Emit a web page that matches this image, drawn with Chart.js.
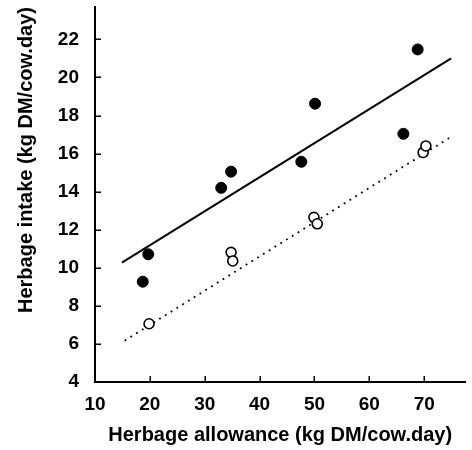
<!DOCTYPE html>
<html><head><meta charset="utf-8">
<script src="https://cdn.jsdelivr.net/npm/chart.js@4/dist/chart.umd.min.js"></script>
<style>html,body{margin:0;padding:0;background:#fff}#wrap{width:472px;height:450px}</style>
</head><body><div id="wrap"><canvas id="c" width="472" height="450"></canvas></div>
<script>
const xTicks = [10, 20, 30, 40, 50, 60, 70];
const yTicks = [4, 6, 8, 10, 12, 14, 16, 18, 20, 22];
const filledX = [18.7, 19.7, 33.0, 34.8, 47.6, 50.1, 66.2, 68.8];
const filledY = [9.27, 10.71, 14.2, 15.05, 15.57, 18.62, 17.04, 21.47];
const openX = [19.85, 34.8, 35.1, 49.9, 50.5, 69.8, 70.3];
const openY = [7.06, 10.81, 10.36, 12.65, 12.31, 16.06, 16.4];
const solidLineX = [14.9, 74.9];
const solidLineY = [10.27, 21.0];
const dottedLineX = [15.4, 74.9];
const dottedLineY = [6.17, 16.88];
const xTitle = 'Herbage allowance (kg DM/cow.day)';
const yTitle = 'Herbage intake (kg DM/cow.day)';

const pts = (xs, ys) => xs.map((v, i) => ({x: v, y: ys[i]}));
const FONT = "'Liberation Sans', Arial, sans-serif";

const tickMarks = {
  id: 'tickMarks',
  beforeDatasetsDraw(chart) {
    const {ctx, scales: {x, y}} = chart;
    ctx.save();
    ctx.strokeStyle = '#000';
    ctx.lineWidth = 1.5;
    ctx.beginPath();
    x.ticks.forEach(t => {
      if (t.value === x.min) return;
      const p = Math.round(x.getPixelForValue(t.value)) + 0.25;
      ctx.moveTo(p, x.top); ctx.lineTo(p, x.top - 6);
    });
    y.ticks.forEach(t => {
      if (t.value === y.min) return;
      const p = Math.round(y.getPixelForValue(t.value)) + 0.25;
      ctx.moveTo(y.right, p); ctx.lineTo(y.right + 6, p);
    });
    ctx.stroke();
    ctx.restore();
  }
};

new Chart(document.getElementById('c'), {
  type: 'scatter',
  data: {
    datasets: [
      {data: pts(filledX, filledY), pointRadius: 5.5, pointBackgroundColor: '#000', pointBorderColor: '#000', pointBorderWidth: 1, showLine: false, order: 0},
      {data: pts(openX, openY), pointRadius: 5, pointBackgroundColor: '#fff', pointBorderColor: '#000', pointBorderWidth: 1.6, showLine: false, order: 0},
      {data: pts(solidLineX, solidLineY), showLine: true, borderColor: '#000', borderWidth: 2, pointRadius: 0, order: 1},
      {data: pts(dottedLineX, dottedLineY), showLine: true, borderColor: '#000', borderWidth: 1.8, borderDash: [1.8, 5], pointRadius: 0, order: 1}
    ]
  },
  options: {
    responsive: false,
    animation: false,
    devicePixelRatio: 1,
    layout: {padding: {left: 0, right: 2, top: 7, bottom: 0}},
    plugins: {legend: {display: false}, tooltip: {enabled: false}},
    scales: {
      x: {
        type: 'linear', min: 10, max: 77.5,
        afterBuildTicks: s => { s.ticks = xTicks.map(v => ({value: v})); },
        afterFit: s => { s.height = 68; s.paddingLeft = 0; s.paddingRight = 0; s.paddingTop = 0; s.paddingBottom = 0; },
        grid: {display: false, drawTicks: false},
        border: {display: true, color: '#000', width: 2},
        ticks: {color: '#000', padding: 11, font: {family: FONT, size: 19, weight: 'bold'}, maxRotation: 0, autoSkip: false},
        title: {display: true, text: xTitle, color: '#000', padding: {top: 0, bottom: 3}, font: {family: FONT, size: 20, weight: 'bold'}}
      },
      y: {
        type: 'linear', min: 4, max: 23.7,
        afterBuildTicks: s => { s.ticks = yTicks.map(v => ({value: v})); },
        afterFit: s => { s.width = 95; s.paddingLeft = 0; s.paddingRight = 0; s.paddingTop = 0; s.paddingBottom = 0; },
        grid: {display: false, drawTicks: false},
        border: {display: true, color: '#000', width: 2},
        ticks: {color: '#000', padding: 16, font: {family: FONT, size: 19, weight: 'bold'}, autoSkip: false},
        title: {display: true, text: yTitle, color: '#000', align: 'end', padding: {top: 14, bottom: 0}, font: {family: FONT, size: 20, weight: 'bold'}}
      }
    }
  },
  plugins: [tickMarks]
});
</script></body></html>
